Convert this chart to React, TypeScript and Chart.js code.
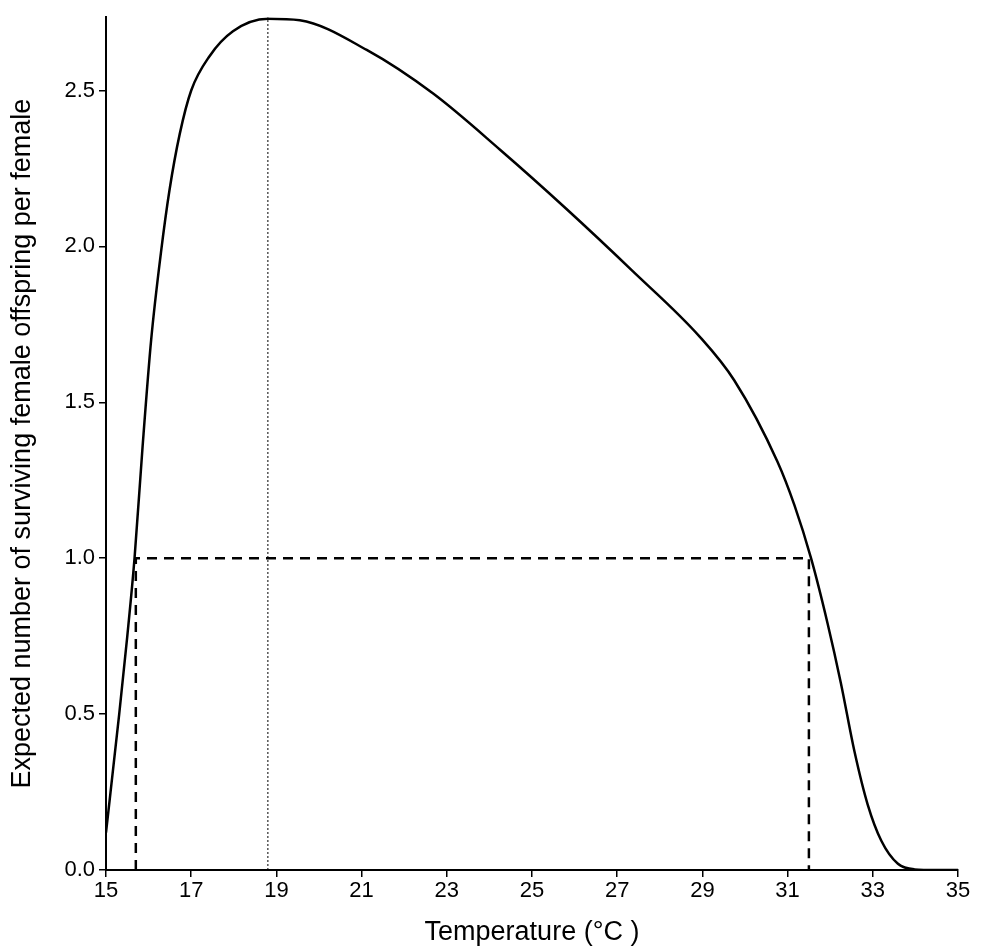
import Chart from "chart.js/auto"
import { FC, useEffect, useRef } from "react"

const tempX: number[] = [15, 15.31, 15.5, 15.67, 15.86, 16.06, 16.29, 16.49, 16.73, 17.0, 17.43, 17.98, 18.8, 19.55, 21.12, 22.68, 24.25, 25.81, 27.37, 28.94, 29.75, 30.76, 31.16, 31.55, 31.94, 32.25, 32.57, 32.88, 33.2, 33.59, 33.98, 34.5, 35]
const offspringY: number[] = [0.12, 0.5, 0.75, 1.0, 1.36, 1.7, 1.98, 2.18, 2.36, 2.5, 2.61, 2.69, 2.73, 2.725, 2.63, 2.49, 2.31, 2.12, 1.92, 1.71, 1.57, 1.31, 1.17, 1.0, 0.79, 0.6, 0.38, 0.21, 0.094, 0.02, 0.002, 0, 0]
const lowerT = 15.7
const upperT = 31.5
const optimumT = 18.8
const peakY = 2.735

const App: FC = () => {
    const canvas = useRef<HTMLCanvasElement>(null)

    useEffect(() => {
        if (!canvas.current) return
        const font = "'Liberation Sans', Arial, sans-serif"
        const chart = new Chart(canvas.current, {
            type: "line",
            data: {
                datasets: [
                    {
                        data: tempX.map((x, i) => ({ x, y: offspringY[i] })),
                        borderColor: "#000",
                        borderWidth: 2.5,
                        pointRadius: 0,
                        cubicInterpolationMode: "monotone"
                    },
                    {
                        data: [{ x: lowerT, y: 0 }, { x: lowerT, y: 1 }, { x: upperT, y: 1 }, { x: upperT, y: 0 }],
                        borderColor: "#000",
                        borderWidth: 2.5,
                        borderDash: [10, 7],
                        pointRadius: 0
                    },
                    {
                        data: [{ x: optimumT, y: 0 }, { x: optimumT, y: peakY }],
                        borderColor: "#000",
                        borderWidth: 1,
                        borderDash: [2, 2],
                        pointRadius: 0
                    }
                ]
            },
            options: {
                animation: false,
                responsive: false,
                layout: { padding: { top: 10, right: 27, left: 4, bottom: 0 } },
                plugins: { legend: { display: false }, tooltip: { enabled: false } },
                scales: {
                    x: {
                        type: "linear",
                        min: 15,
                        max: 35,
                        ticks: { stepSize: 2, color: "#000", font: { family: font, size: 22 }, padding: 1 },
                        grid: { drawOnChartArea: false, tickLength: 7, color: "#000", lineWidth: 1.5 },
                        border: { color: "#000", width: 2 },
                        title: { display: true, text: "Temperature (°C )", color: "#000", font: { family: font, size: 27 }, padding: 0 },
                        afterFit: (s: any) => { s.height = 79 }
                    },
                    y: {
                        min: 0,
                        max: peakY,
                        afterBuildTicks: (s: any) => { s.ticks = s.ticks.filter((t: any) => Math.abs(t.value * 2 - Math.round(t.value * 2)) < 1e-6) },
                        ticks: { stepSize: 0.5, color: "#000", font: { family: font, size: 22 }, callback: (v: any) => Number(v).toFixed(1), padding: 4 },
                        grid: { drawOnChartArea: false, tickLength: 7, color: "#000", lineWidth: 1.5 },
                        border: { color: "#000", width: 2 },
                        title: { display: true, text: "Expected number of surviving female offspring per female", color: "#000", font: { family: font, size: 27 }, padding: 2 },
                        afterFit: (s: any) => { s.width = 102 }
                    }
                }
            }
        })
        return () => chart.destroy()
    }, [])

    return (
        <div style={{ position: "fixed", left: 0, top: 0, width: 985, height: 949, background: "#fff" }}>
            <canvas ref={canvas} width={985} height={949} style={{ width: 985, height: 949 }}></canvas>
        </div>
    )
}

export default App
